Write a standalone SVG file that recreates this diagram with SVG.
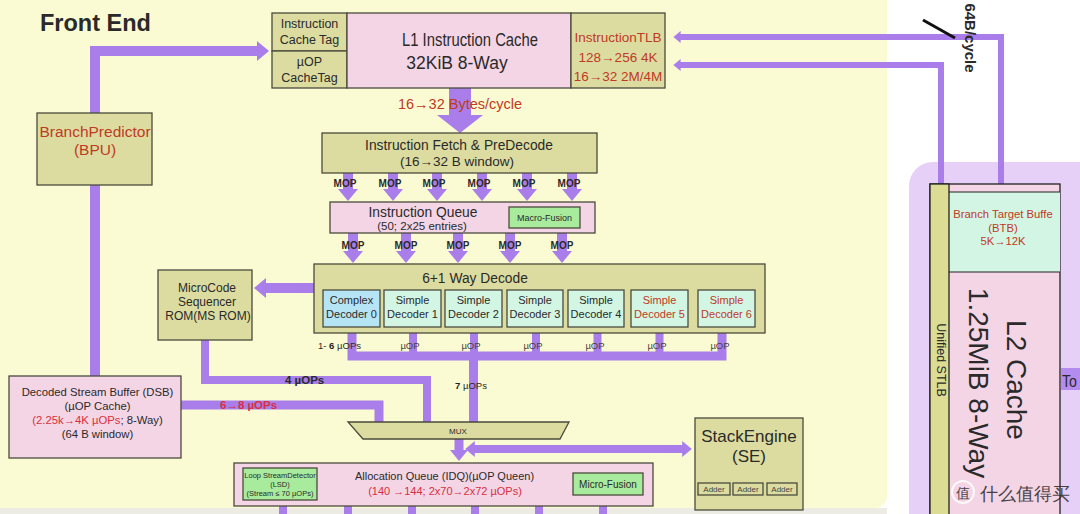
<svg xmlns="http://www.w3.org/2000/svg" width="1080" height="514" viewBox="0 0 1080 514">
<defs>
<style>
text{font-family:"Liberation Sans",Arial,Helvetica,sans-serif;fill:#2a2a2a}
.bx{stroke:#4a4a3c;stroke-width:1.3}
.ol{fill:#dcdca0}
.pk{fill:#f4d5e5}
.mt{fill:#d3f5e4}
.sb{fill:#b5e5f5}
.gn{fill:#a8eb9c}
.w{fill:none;stroke:#a97eea;stroke-linejoin:miter;stroke-linecap:butt}
.pf{fill:#a97eea}
.r{fill:#bf3a24}
.rr{fill:#d83040}
.c{text-anchor:middle}
.mop{font-size:10px;font-weight:bold;text-anchor:middle}
.uop{font-size:9.5px;text-anchor:middle;fill:#444}
.dec{font-size:11px;text-anchor:middle}
.add{font-size:8px;text-anchor:middle;fill:#444}
</style>
<marker id="ah" viewBox="0 0 6 10" refX="0.5" refY="5" markerWidth="1.2" markerHeight="2" orient="auto-start-reverse" markerUnits="strokeWidth"><path d="M0,0L6,5L0,10z" fill="#a97eea"/></marker>
</defs>

<rect width="1080" height="514" fill="#ffffff"/>
<rect x="-12" y="-12" width="899" height="520" rx="12" fill="#fbfbd3"/>
<rect x="0" y="508" width="887" height="6" fill="#ececE4"/>
<rect x="909" y="162" width="200" height="380" rx="24" fill="#e7d0f8"/>

<text x="40" y="31" font-size="23.5" font-weight="bold" fill="#111">Front End</text>

<g id="connectors">
  <path class="w" stroke-width="10" d="M95,376 V51 H258" marker-end="url(#ah)"/>
  <path class="w" stroke-width="6" d="M1001,184 V37 H680" marker-end="url(#ah)"/>
  <path class="w" stroke-width="6" d="M941,184 V65 H680" marker-end="url(#ah)"/>
  <rect class="pf" x="449" y="88" width="22" height="28"/>
  <polygon class="pf" points="437,115 483,115 460,133"/>
  <g stroke-width="10">
    <path class="w" d="M348,173 V190" marker-end="url(#ah)"/>
    <path class="w" d="M393,173 V190" marker-end="url(#ah)"/>
    <path class="w" d="M437,173 V190" marker-end="url(#ah)"/>
    <path class="w" d="M482,173 V190" marker-end="url(#ah)"/>
    <path class="w" d="M527,173 V190" marker-end="url(#ah)"/>
    <path class="w" d="M572,173 V190" marker-end="url(#ah)"/>
    <path class="w" d="M353,233 V252" marker-end="url(#ah)"/>
    <path class="w" d="M406,233 V252" marker-end="url(#ah)"/>
    <path class="w" d="M458,233 V252" marker-end="url(#ah)"/>
    <path class="w" d="M510,233 V252" marker-end="url(#ah)"/>
    <path class="w" d="M562,233 V252" marker-end="url(#ah)"/>
    <path class="w" d="M314,288 H265" marker-end="url(#ah)"/>
  </g>
  <path class="w" stroke-width="8" d="M205,340 V380 H427 V422"/>
  <path class="w" stroke-width="9" d="M181,405 H379 V422"/>
  <path class="w" stroke-width="9" d="M352,327 V356 H722 V327"/>
  <path class="w" stroke-width="8" d="M413,327 V356 M474,327 V356 M536,327 V356 M597.5,327 V356 M659.5,327 V356"/>
  <path class="w" stroke-width="9" d="M473.5,356 V422"/>
  <path class="w" stroke-width="9" d="M459,439 V451" marker-end="url(#ah)"/>
  <path class="w" stroke-width="8" d="M474,449 H683" marker-start="url(#ah)" marker-end="url(#ah)"/>
  <path class="w" stroke-width="8" d="M283,506 V514 M348,506 V514 M412,506 V514 M475,506 V514 M539,506 V514 M603,506 V514"/>

  <text x="460" y="109" font-size="14.5" class="c r">16→32 Bytes/cycle</text>
  <text x="345" y="187" class="mop">MOP</text>
  <text x="390" y="187" class="mop">MOP</text>
  <text x="434" y="187" class="mop">MOP</text>
  <text x="479" y="187" class="mop">MOP</text>
  <text x="524" y="187" class="mop">MOP</text>
  <text x="569" y="187" class="mop">MOP</text>
  <text x="353" y="249" class="mop">MOP</text>
  <text x="406" y="249" class="mop">MOP</text>
  <text x="458" y="249" class="mop">MOP</text>
  <text x="510" y="249" class="mop">MOP</text>
  <text x="562" y="249" class="mop">MOP</text>
  <text x="318" y="349" font-size="9.5" fill="#444">1- <tspan font-weight="bold" fill="#222">6</tspan> µOPs</text>
  <text x="410" y="349" class="uop">µOP</text>
  <text x="471" y="349" class="uop">µOP</text>
  <text x="533" y="349" class="uop">µOP</text>
  <text x="595" y="349" class="uop">µOP</text>
  <text x="657" y="349" class="uop">µOP</text>
  <text x="720" y="349" class="uop">µOP</text>
  <text x="455" y="389" font-size="9.5" fill="#444"><tspan font-weight="bold" fill="#222">7</tspan> µOPs</text>
  <text x="285" y="384" font-size="11.5" font-weight="bold" fill="#222">4 µOPs</text>
  <text x="220" y="409" font-size="11.5" font-weight="bold" class="rr">6→8 µOPs</text>
  <text transform="translate(965,38) rotate(90)" font-size="15" font-weight="bold" class="c" fill="#111">64B/cycle</text>
  <line x1="923" y1="20" x2="955" y2="38" stroke="#111" stroke-width="3"/>
</g>

<g id="l1-icache">
  <rect class="bx ol" x="272" y="13" width="75" height="38"/>
  <rect class="bx ol" x="272" y="51" width="75" height="37"/>
  <rect class="bx pk" x="347" y="13" width="224" height="75"/>
  <rect class="bx ol" x="571" y="13" width="94" height="75"/>
  <text x="309.5" y="28" font-size="12.5" class="c">Instruction</text>
  <text x="309.5" y="44" font-size="12.5" class="c">Cache Tag</text>
  <text x="309.5" y="66" font-size="12.5" class="c">µOP</text>
  <text x="309.5" y="82" font-size="12.5" class="c">CacheTag</text>
  <text x="470" y="46" font-size="17.5" class="c" textLength="136" lengthAdjust="spacingAndGlyphs">L1 Instruction Cache</text>
  <text x="457" y="69" font-size="17.5" class="c">32KiB 8-Way</text>
  <text x="618" y="42" font-size="13.5" class="c r">InstructionTLB</text>
  <text x="618" y="62" font-size="13.5" class="c r">128→256 4K</text>
  <text x="618" y="81" font-size="13.5" class="c r">16→32 2M/4M</text>
</g>

<g id="bpu">
  <rect class="bx ol" x="37" y="113" width="115" height="72"/>
  <text x="95" y="137" font-size="15.5" class="c r">BranchPredictor</text>
  <text x="95" y="155" font-size="15.5" class="c r">(BPU)</text>
</g>

<g id="fetch">
  <rect class="bx ol" x="322" y="133" width="275" height="40"/>
  <text x="459" y="150" font-size="13.8" class="c">Instruction Fetch &amp; PreDecode</text>
  <text x="457" y="166" font-size="13.5" class="c" fill="#c0502a">(16→32 B window)</text>
</g>

<g id="iq">
  <rect class="bx pk" x="330" y="202" width="265" height="31"/>
  <text x="423" y="217" font-size="13.8" class="c">Instruction Queue</text>
  <text x="422" y="230" font-size="11.5" class="c">(50; 2x25 entries)</text>
  <rect class="bx gn" x="509" y="207" width="71" height="21"/>
  <text x="544.5" y="221" font-size="9" class="c">Macro-Fusion</text>
</g>

<g id="decode">
  <rect class="bx ol" x="314" y="264" width="451" height="69"/>
  <text x="475" y="283" font-size="13.8" class="c">6+1 Way Decode</text>
  <rect class="bx sb" x="323" y="290" width="57" height="37"/>
  <rect class="bx mt" x="384" y="290" width="57" height="37"/>
  <rect class="bx mt" x="445" y="290" width="57" height="37"/>
  <rect class="bx mt" x="507" y="290" width="56" height="37"/>
  <rect class="bx mt" x="568" y="290" width="56" height="37"/>
  <rect class="bx mt" x="631" y="290" width="57" height="37"/>
  <rect class="bx mt" x="698" y="290" width="57" height="37"/>
  <text x="351.5" y="304" class="dec">Complex</text><text x="351.5" y="318" class="dec">Decoder 0</text>
  <text x="412.5" y="304" class="dec">Simple</text><text x="412.5" y="318" class="dec">Decoder 1</text>
  <text x="473.5" y="304" class="dec">Simple</text><text x="473.5" y="318" class="dec">Decoder 2</text>
  <text x="535" y="304" class="dec">Simple</text><text x="535" y="318" class="dec">Decoder 3</text>
  <text x="596" y="304" class="dec">Simple</text><text x="596" y="318" class="dec">Decoder 4</text>
  <text x="659.5" y="304" class="dec r">Simple</text><text x="659.5" y="318" class="dec r">Decoder 5</text>
  <text x="726.5" y="304" class="dec r">Simple</text><text x="726.5" y="318" class="dec r">Decoder 6</text>
</g>

<g id="msrom">
  <rect class="bx ol" x="158" y="270" width="94" height="70"/>
  <text x="207" y="292" font-size="12" class="c">MicroCode</text>
  <text x="207" y="306" font-size="12" class="c">Sequencer</text>
  <text x="208" y="320" font-size="12" class="c">ROM(MS ROM)</text>
</g>

<g id="dsb">
  <rect class="bx pk" x="9" y="376" width="172" height="82"/>
  <text x="97.5" y="396" font-size="11.3" class="c">Decoded Stream Buffer (DSB)</text>
  <text x="97.5" y="410" font-size="11.3" class="c">(µOP Cache)</text>
  <text x="97.5" y="424" font-size="11.3" class="c"><tspan class="rr">(2.25k→4K µOPs</tspan>; 8-Way)</text>
  <text x="97.5" y="438" font-size="11.3" class="c">(64 B window)</text>
</g>

<g id="mux">
  <polygon class="bx ol" points="348,422 569,422 560,439 363,439"/>
  <text x="458" y="434" font-size="8" class="c" fill="#444">MUX</text>
</g>

<g id="idq">
  <rect class="bx pk" x="234" y="463" width="419" height="43"/>
  <text x="444.5" y="480" font-size="11" class="c">Allocation Queue (IDQ)(µOP Queen)</text>
  <text x="445" y="495" font-size="11" class="c rr">(140 →144; 2x70→2x72 µOPs)</text>
  <rect class="bx gn" x="243" y="468" width="74" height="32"/>
  <text x="280" y="478" font-size="7.5" class="c">Loop StreamDetector</text>
  <text x="280" y="487" font-size="7.5" class="c">(LSD)</text>
  <text x="280" y="496" font-size="7.5" class="c">(Stream ≤ 70 µOPs)</text>
  <rect class="bx gn" x="573" y="473" width="70" height="22"/>
  <text x="608" y="487.5" font-size="10" class="c">Micro-Fusion</text>
</g>

<g id="stackengine">
  <rect class="bx ol" x="695" y="418" width="108" height="92"/>
  <text x="749" y="442" font-size="17" class="c">StackEngine</text>
  <text x="749" y="462" font-size="17" class="c">(SE)</text>
  <rect class="bx ol" x="698" y="483" width="32" height="12"/>
  <rect class="bx ol" x="733" y="483" width="30" height="12"/>
  <rect class="bx ol" x="767" y="483" width="30" height="12"/>
  <text x="714" y="492" class="add">Adder</text>
  <text x="748" y="492" class="add">Adder</text>
  <text x="782" y="492" class="add">Adder</text>
</g>

<g id="l2">
  <rect x="930" y="184" width="130" height="340" fill="#f4d5e5" stroke="#222" stroke-width="1.3"/>
  <rect x="949" y="192" width="111" height="80" fill="#d3f5e4"/>
  <rect x="930" y="184" width="19" height="340" fill="#dcdc94" stroke="#222" stroke-width="1.3"/>
  <line x1="949" y1="192" x2="1060" y2="192" stroke="#222" stroke-width="1.2"/>
  <line x1="949" y1="272" x2="1060" y2="272" stroke="#222" stroke-width="1.2"/>
  <text x="1003" y="218" font-size="11.3" class="c r">Branch Target Buffe</text>
  <text x="1003" y="232" font-size="11.3" class="c r">(BTB)</text>
  <text x="1003" y="245" font-size="11.3" class="c r">5K→12K</text>
  <text transform="translate(937,360) rotate(90)" font-size="12.5" class="c" fill="#333">Unified STLB</text>
  <text transform="translate(1007,380) rotate(90)" font-size="28" class="c" fill="#111">L2 Cache</text>
  <text transform="translate(969,383) rotate(90)" font-size="28" class="c" fill="#111">1.25MiB 8-Way</text>
</g>

<g id="to">
  <rect x="1061" y="368" width="19" height="22" fill="#b48cf0"/>
  <text x="1062" y="387" font-size="17" fill="#111" textLength="15" lengthAdjust="spacingAndGlyphs">To</text>
</g>

<g id="watermark" opacity="0.85">
  <circle cx="963" cy="492" r="11" fill="none" stroke="#ffffff" stroke-width="2"/>
  <text x="963" y="498" font-size="14" class="c" fill="#ffffff" font-family="Noto Sans CJK SC, sans-serif">值</text>
  <text x="980" y="500" font-size="18" fill="#ffffff" font-family="Noto Sans CJK SC, sans-serif">什么值得买</text>
</g>
</svg>
